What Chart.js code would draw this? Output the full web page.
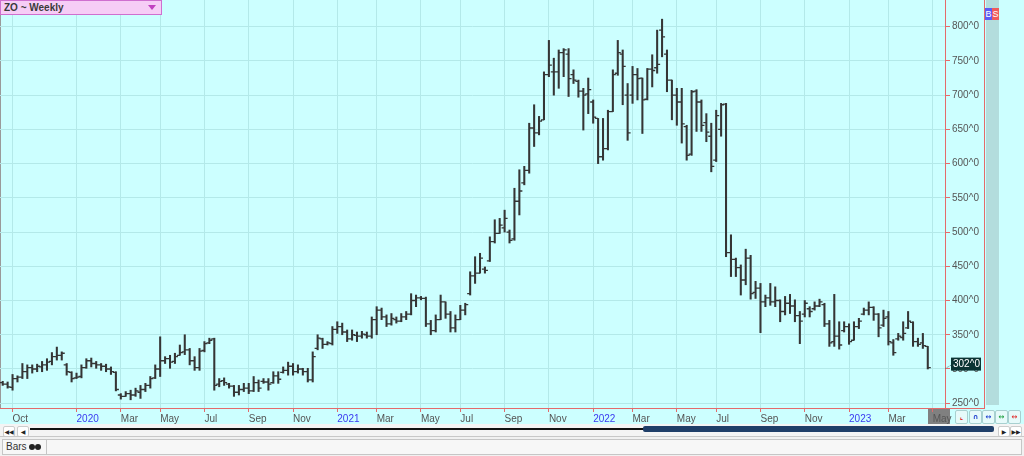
<!DOCTYPE html>
<html>
<head>
<meta charset="utf-8">
<script src="https://cdn.jsdelivr.net/npm/chart.js@4.4.1/dist/chart.umd.min.js"></script>
<style>
  body { margin: 0; background: #fff; font-family: "Liberation Sans", Arial, sans-serif; }
  #wrap { position: relative; width: 1024px; height: 456px; overflow: hidden; background: #fff; }
  .abs { position: absolute; }
  #plotbg { left: 0; top: 0; width: 1024px; height: 424px; background: #ccffff; }
  #maybox { left: 928px; top: 409px; width: 22px; height: 15px; background: #808080; }
  #stripe { left: 986px; top: 0; width: 13px; height: 405px; background: #b3dddd; }
  #redv { left: 984px; top: 0; width: 1px; height: 409px; background: #e46a6a; }
  #redh { left: 945px; top: 408px; width: 40px; height: 1px; background: #e46a6a; }
  #leftline { left: 0; top: 0; width: 1px; height: 408px; background: #9a9a9a; }
  #chart { position: absolute; left: 0; top: 0; z-index: 2; }
  #hdr { left: 0; top: 0; width: 157px; height: 13px; background: #f6cdf6; border: 1.5px solid #cf6fcf;
         font: bold 10px "Liberation Sans", Arial, sans-serif; color: #3a3a3a; line-height: 13px; padding-left: 3px; z-index: 3; }
  #hdr .tri { position: absolute; right: 5px; top: 4px; width: 0; height: 0;
              border-left: 4px solid transparent; border-right: 4px solid transparent; border-top: 5px solid #c040c0; }
  .bs { top: 8px; width: 7px; height: 12px; color: #fff; font: 9px "Liberation Sans", Arial, sans-serif; line-height: 12px; text-align: center; z-index: 3; }
  .sb { top: 410px; width: 11px; height: 12px; background: #e6fafa; border: 1px solid #a8d0d0; border-radius: 2px;
        font: bold 7px "DejaVu Sans", sans-serif; line-height: 12px; text-align: center; z-index: 3; }
  #scroll { left: 0; top: 424px; width: 1024px; height: 12px; background: #f4f4f4; }
  .nav { top: 426px; width: 10px; height: 9px; background: #fff; border: 1px solid #ccc; border-radius: 2px;
         font: 6px "DejaVu Sans", sans-serif; line-height: 9px; text-align: center; color: #222; }
  #track { left: 30px; top: 428px; width: 615px; height: 2px; background: #111; }
  #thumb { left: 643px; top: 426px; width: 351px; height: 6px; background: #1f3e68; border-radius: 2px; }
  #status { left: 0; top: 436px; width: 1024px; height: 20px; background: #f1f1f1; border-top: 1px solid #c8c8c8; }
  #bars { left: 2px; top: 439px; width: 40px; height: 14px; border: 1px solid #c6c6c6; background: #f7f7f7;
          font: 10px "Liberation Sans", Arial, sans-serif; color: #333; line-height: 14px; padding-left: 3px; box-sizing: content-box; }
  #bars .dot { display: inline-block; width: 6px; height: 6px; border-radius: 3px; background: #222; margin-left: 0; vertical-align: 0; }
  #statmain { left: 46px; top: 439px; width: 974px; height: 14px; border: 1px solid #c6c6c6; background: #f7f7f7; }
</style>
</head>
<body>
<div id="wrap">
  <div id="plotbg" class="abs"></div>
  <div id="maybox" class="abs"></div>
  <div id="stripe" class="abs"></div>
  <div id="redv" class="abs"></div>
  <div id="redh" class="abs"></div>
  <div id="leftline" class="abs"></div>
  <canvas id="chart" width="985" height="424"></canvas>
  <div id="hdr" class="abs">ZO ~ Weekly<span class="tri"></span></div>
  <div class="abs bs" style="left:985px;background:#5b5bf5;">B</div>
  <div class="abs bs" style="left:992px;background:#f05a5a;">S</div>
  <div class="abs sb" style="left:955px;color:#e03030;">&#8990;</div>
  <div class="abs sb" style="left:969px;color:#2040d0;">&#8745;</div>
  <div class="abs sb" style="left:982px;color:#2040d0;">&#8596;</div>
  <div class="abs sb" style="left:995px;color:#20a040;">&#8596;</div>
  <div class="abs sb" style="left:1008px;color:#e03030;">&#8596;</div>
  <div id="scroll" class="abs"></div>
  <div class="abs nav" style="left:3px;">&#9664;&#9664;</div>
  <div class="abs nav" style="left:17px;">&#9664;</div>
  <div id="track" class="abs"></div>
  <div id="thumb" class="abs"></div>
  <div class="abs nav" style="left:998px;">&#9654;</div>
  <div class="abs nav" style="left:1010px;">&#9654;&#9654;</div>
  <div id="status" class="abs"></div>
  <div id="bars" class="abs">Bars <span class="dot"></span><span class="dot"></span></div>
  <div id="statmain" class="abs"></div>
</div>

<script>
// weekly OHLC, Sep 2019 .. Apr 2023
const opens = [
  280,278,273,286,288,296,302,300,303,306,311,318,320,306,295,287,289,302,312,308,
  306,304,300,295,262,260,264,262,266,270,276,287,300,312,315,311,320,325,328,312,
  302,327,338,344,278,283,278,275,266,270,272,268,280,282,281,280,290,295,298,304,
  296,300,296,284,330,344,336,337,358,362,354,344,349,348,350,348,372,386,376,366,
  372,370,376,380,400,404,403,366,356,372,398,380,360,372,386,410,436,440,446,458,
  486,498,506,500,490,545,572,590,652,645,664,730,734,734,762,760,730,720,706,702,
  690,666,610,622,676,732,760,700,700,730,725,694,738,740,795,760,722,700,690,654,
  614,706,690,660,640,605,650,687,470,460,448,430,462,412,418,398,404,398,400,384,
  396,392,378,380,388,388,392,394,366,340,348,356,362,342,362,380,386,390,380,364,
  376,338,344,346,360,368,340,338,333
];
const highs = [
  282,281,292,290,308,306,306,307,311,315,324,332,325,308,296,294,306,315,316,311,
  308,307,303,296,264,267,269,272,276,279,289,306,347,318,320,323,335,350,330,318,
  330,340,345,345,286,287,279,276,276,279,279,289,284,286,286,296,296,303,310,308,
  306,301,301,325,350,345,340,362,369,367,357,357,354,355,354,376,391,389,379,381,
  376,381,384,410,408,406,405,371,379,408,398,384,379,393,396,442,464,469,449,493,
  518,520,532,503,564,591,596,659,686,669,734,780,754,766,768,768,737,722,710,725,
  693,666,666,678,737,780,766,717,742,739,725,739,759,795,811,766,722,710,710,656,
  707,708,693,673,659,678,688,688,496,462,452,475,466,428,425,408,425,420,401,406,
  409,401,384,400,391,398,402,396,371,409,369,369,366,369,374,389,398,391,381,386,
  384,343,352,369,384,369,345,352,333
];
const lows = [
  276,272,269,281,286,286,294,296,296,298,306,313,313,291,281,286,287,301,303,301,
  298,296,292,268,256,260,255,260,257,267,272,286,289,308,301,308,320,321,306,298,
  298,325,337,269,274,276,272,260,262,267,264,267,267,279,269,279,279,294,291,291,
  294,291,281,281,328,330,335,335,352,350,340,342,340,345,345,345,350,372,362,364,
  367,369,372,379,391,401,362,350,354,372,374,354,354,372,379,408,425,440,440,457,
  484,498,500,484,488,525,569,586,625,642,664,727,700,710,727,698,717,697,649,673,
  659,600,605,620,676,729,686,634,688,693,644,693,712,732,756,705,664,656,630,605,
  612,647,647,632,588,603,640,464,435,435,408,423,402,403,353,391,393,391,369,379,
  381,369,337,376,376,386,391,362,333,333,329,354,336,342,359,379,379,371,347,362,
  335,320,342,342,359,333,333,330,300
];
const closes = [
  278,274,286,288,296,302,300,304,306,310,318,320,323,296,286,288,302,312,308,306,
  304,300,296,270,260,264,262,268,270,276,286,300,312,315,310,318,324,328,312,302,
  326,337,342,276,282,280,275,266,270,272,268,280,272,281,278,290,285,298,304,296,
  300,296,284,318,345,336,338,358,362,354,344,350,348,351,348,372,386,376,366,374,
  370,376,380,400,404,403,366,356,372,398,380,360,372,386,394,436,440,462,444,486,
  498,510,520,488,545,560,590,652,645,662,730,744,734,762,766,724,722,706,700,708,
  668,610,622,676,730,762,742,645,730,724,693,738,736,745,785,722,700,690,658,612,
  705,690,656,646,596,670,686,470,460,448,430,462,410,418,398,404,398,400,384,396,
  392,378,370,396,384,392,398,366,338,348,335,362,340,362,370,386,390,380,360,374,
  340,324,348,352,370,340,336,334,302
];

// x-axis: week index where each month label sits
const monthTickWeeks = [2, 15, 24, 32, 41, 50, 59, 68, 76, 85, 93, 102, 111, 120, 128, 137, 145, 154, 163, 172, 180, 189];
const monthTickLabels = ['Oct','2020','Mar','May','Jul','Sep','Nov','2021','Mar','May','Jul','Sep','Nov','2022','Mar','May','Jul','Sep','Nov','2023','Mar','May'];
const priceTicks = [250, 300, 350, 400, 450, 500, 550, 600, 650, 700, 750, 800];

const barColor = '#353535';
const axisRed = '#e46a6a';
const gridColor = '#b3e9e9';

const weekIdx = opens.map((_, i) => i);
const barData = weekIdx.map(i => ({ x: i, y: [lows[i], highs[i]] }));

// open tick left, close tick right
const ohlcTicks = {
    id: 'ohlcTicks',
    afterDatasetsDraw(chart) {
        const { ctx, scales: { x, y } } = chart;
        ctx.save();
        ctx.strokeStyle = barColor;
        ctx.lineWidth = 1.3;
        ctx.beginPath();
        weekIdx.forEach(i => {
            const px = x.getPixelForValue(i);
            const yo = y.getPixelForValue(opens[i]);
            const yc = y.getPixelForValue(closes[i]);
            ctx.moveTo(px - 3, yo); ctx.lineTo(px, yo);
            ctx.moveTo(px, yc); ctx.lineTo(px + 3, yc);
        });
        ctx.stroke();
        ctx.restore();
    },
    afterDraw(chart) {
        // last price marker on the right axis
        const { ctx, scales: { y }, chartArea } = chart;
        const last = closes[closes.length - 1];
        const py = y.getPixelForValue(last);
        ctx.save();
        ctx.strokeStyle = '#557777';
        ctx.setLineDash([1, 1]);
        ctx.beginPath();
        ctx.moveTo(chartArea.right, py + 1);
        ctx.lineTo(chartArea.right + 7, py - 3);
        ctx.stroke();
        ctx.setLineDash([]);
        ctx.fillStyle = '#0c3434';
        ctx.fillRect(chartArea.right + 6, py - 10, 30, 13);
        ctx.fillStyle = '#ffffff';
        ctx.font = '10px "Liberation Sans", Arial, sans-serif';
        ctx.textBaseline = 'middle';
        ctx.fillText(last + '^0', chartArea.right + 8, py - 3.5);
        ctx.restore();
    }
};

const config = {
    type: 'bar',
    data: {
        datasets: [{
            label: 'ZO Weekly',
            data: barData,
            backgroundColor: barColor,
            borderWidth: 0,
            barThickness: 1.4
        }]
    },
    options: {
        responsive: false,
        animation: false,
        devicePixelRatio: 1,
        layout: { padding: 0 },
        plugins: { legend: { display: false }, tooltip: { enabled: false } },
        scales: {
            x: {
                type: 'linear',
                min: -0.55,
                max: 191.5,
                offset: false,
                grid: { color: gridColor, offset: false, tickColor: axisRed, tickLength: 4 },
                border: { color: axisRed },
                afterBuildTicks: s => { s.ticks = monthTickWeeks.map(v => ({ value: v })); },
                afterFit: s => { s.height = 16; s.paddingLeft = 0; s.paddingRight = 0; },
                ticks: {
                    autoSkip: false,
                    maxRotation: 0,
                    minRotation: 0,
                    align: 'start',
                    padding: 1,
                    font: { family: '"Liberation Sans", Arial, sans-serif', size: 10 },
                    color: c => /^\d{4}$/.test(monthTickLabels[c.index]) ? '#3a3af0' : '#555555',
                    callback: (v, i) => monthTickLabels[i]
                }
            },
            y: {
                position: 'right',
                min: 243,
                max: 839,
                grid: { color: gridColor, tickColor: axisRed, tickLength: 5 },
                border: { color: axisRed },
                afterBuildTicks: s => { s.ticks = priceTicks.map(v => ({ value: v })); },
                afterFit: s => { s.width = 40; s.paddingTop = 0; s.paddingBottom = 0; },
                ticks: {
                    padding: 2,
                    font: { family: '"Liberation Sans", Arial, sans-serif', size: 10 },
                    color: '#555555',
                    callback: v => v + '^0'
                }
            }
        }
    },
    plugins: [ohlcTicks]
};

new Chart(document.getElementById('chart').getContext('2d'), config);
</script>
</body>
</html>
